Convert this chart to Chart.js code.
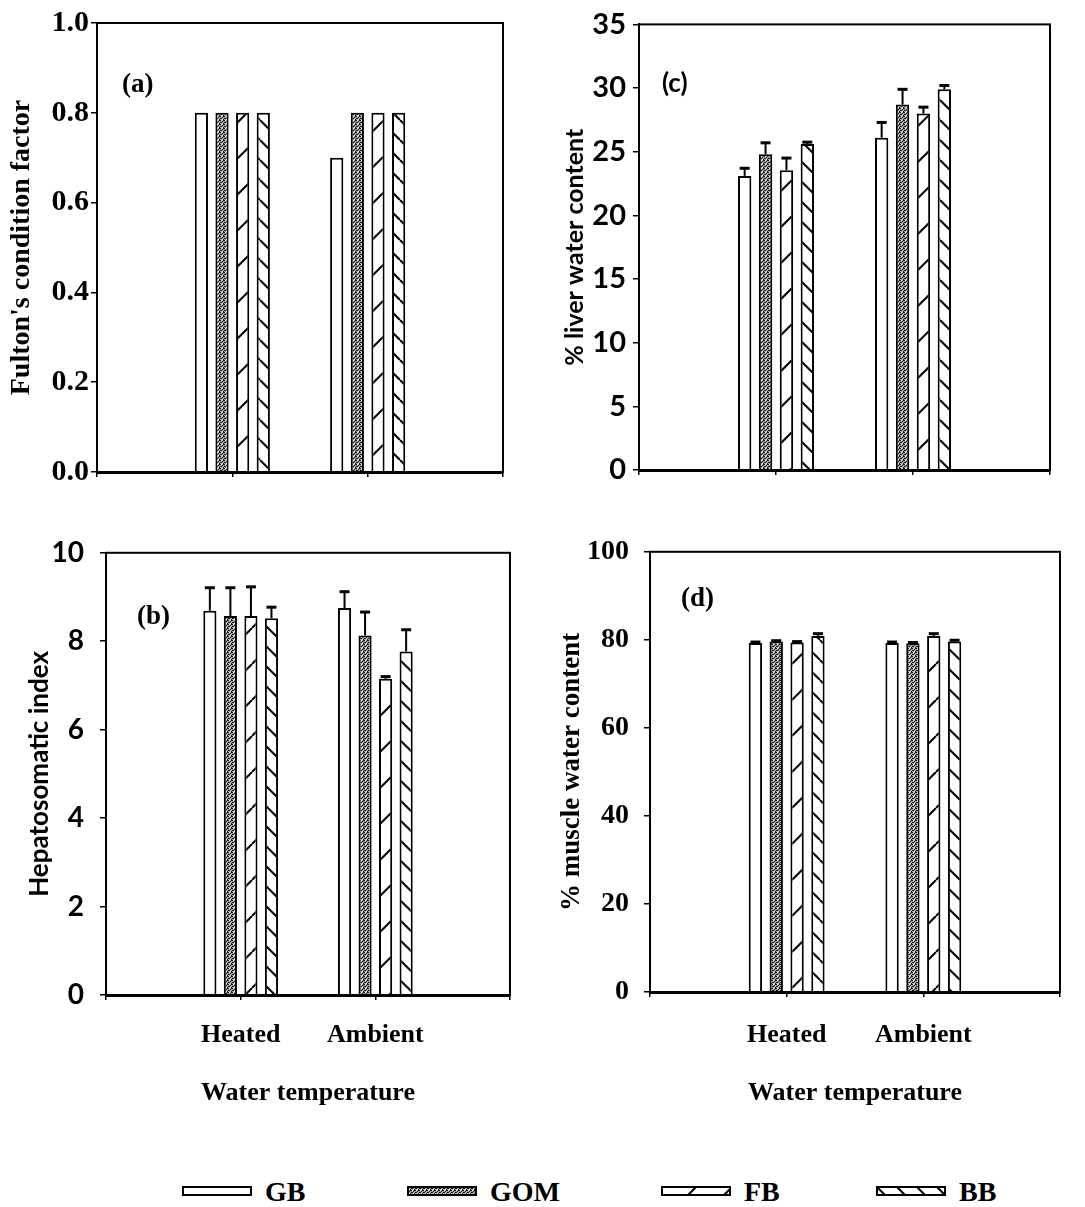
<!DOCTYPE html>
<html lang="en">
<head>
<meta charset="UTF-8">
<title>Condition factor, HSI and tissue water content by stock</title>
<script src="https://cdn.jsdelivr.net/npm/chart.js"></script>
<style>
  body {
    margin: 0;
    background: #fff;
    width: 1085px;
    height: 1207px;
    position: relative;
    overflow: hidden;
  }
  canvas.panel { position: absolute; }
  #chartA { left: 0; top: 0; }
  #chartC { left: 540px; top: 0; }
  #chartB { left: 0; top: 520px; }
  #chartD { left: 540px; top: 520px; }
  .key {
    position: absolute;
    top: 1178px;
    height: 28px;
    display: flex;
    align-items: center;
    font: bold 28px 'Liberation Serif', serif;
    color: #000;
  }
  .key canvas { margin-right: 13px; margin-top: -3px; }
</style>
</head>
<body>
<canvas id="chartA" class="panel" width="540" height="520"></canvas>
<canvas id="chartC" class="panel" width="545" height="520"></canvas>
<canvas id="chartB" class="panel" width="540" height="600"></canvas>
<canvas id="chartD" class="panel" width="545" height="600"></canvas>
<div id="keys"></div>

<script>
const groups = ['Heated', 'Ambient'];
const stocks = ['GB', 'GOM', 'FB', 'BB'];

// rows follow stocks, columns follow groups
const fulton = [[0.8, 0.7], [0.8, 0.8], [0.8, 0.8], [0.8, 0.8]];

const hsi = [[8.69, 8.75], [8.57, 8.13], [8.57, 7.15], [8.52, 7.77]];
const hsiErr = [[0.52, 0.37], [0.64, 0.53], [0.66, 0.05], [0.25, 0.49]];

const liverWater = [[23.1, 26.1], [24.8, 28.7], [23.55, 28.0], [25.6, 29.9]];
const liverErr = [[0.6, 1.2], [0.9, 1.2], [0.95, 0.5], [0.15, 0.3]];

const muscleWater = [[79.3, 79.3], [79.6, 79.2], [79.4, 80.9], [80.9, 79.6]];
const muscleErr = [[0.2, 0.2], [0.2, 0.2], [0.2, 0.5], [0.5, 0.3]];

const serif = "'Liberation Serif', 'Times New Roman', serif";
const sans = "Lato, 'DejaVu Sans', sans-serif";

// hatch / stipple fills
function tile(w, h, draw) {
  const c = document.createElement('canvas');
  c.width = w;
  c.height = h;
  const g = c.getContext('2d');
  g.fillStyle = '#fff';
  g.fillRect(0, 0, w, h);
  draw(g, w, h);
  return g.createPattern(c, 'repeat');
}

const fills = {
  GB: '#ffffff',
  GOM: tile(4, 4, g => {
    g.fillStyle = '#a8a8a8';
    g.fillRect(0, 0, 4, 4);
    g.fillStyle = '#111';
    [[0, 0], [2, 1], [1, 2], [3, 3], [3, 0], [0, 2]].forEach(([x, y]) => g.fillRect(x, y, 1, 1));
    g.fillStyle = '#eee';
    [[1, 0], [2, 3]].forEach(([x, y]) => g.fillRect(x, y, 1, 1));
  }),
  FB: tile(36, 36, (g, w, h) => {
    g.strokeStyle = '#000';
    g.lineWidth = 2;
    for (const o of [-w, 0, w]) {
      g.beginPath();
      g.moveTo(o, h);
      g.lineTo(o + w, 0);
      g.stroke();
    }
  }),
  BB: tile(20, 20, (g, w, h) => {
    g.strokeStyle = '#000';
    g.lineWidth = 2;
    for (const o of [-w, 0, w]) {
      g.beginPath();
      g.moveTo(o, 0);
      g.lineTo(o + w, h);
      g.stroke();
    }
  })
};

// box around the plot area
const frame = {
  id: 'frame',
  afterDraw(chart) {
    const { ctx, chartArea: a } = chart;
    ctx.save();
    ctx.strokeStyle = '#000';
    ctx.lineWidth = 2;
    ctx.strokeRect(a.left, a.top, a.right - a.left, a.bottom - a.top);
    ctx.restore();
  }
};

// mean + SE whiskers
const errorBars = {
  id: 'errorBars',
  afterDatasetsDraw(chart) {
    const ctx = chart.ctx;
    const y = chart.scales.y;
    ctx.save();
    ctx.strokeStyle = '#000';
    chart.data.datasets.forEach((ds, i) => {
      if (!ds.errors) return;
      chart.getDatasetMeta(i).data.forEach((bar, j) => {
        const v = ds.data[j];
        const e = ds.errors[j];
        if (v == null || e == null) return;
        const top = y.getPixelForValue(v + e);
        ctx.lineWidth = 2;
        ctx.beginPath();
        ctx.moveTo(bar.x, bar.y);
        ctx.lineTo(bar.x, top);
        ctx.stroke();
        ctx.lineWidth = 3;
        ctx.beginPath();
        ctx.moveTo(bar.x - 5, top);
        ctx.lineTo(bar.x + 5, top);
        ctx.stroke();
      });
    });
    ctx.restore();
  }
};

const panelTag = {
  id: 'panelTag',
  afterDraw(chart, args, o) {
    const { ctx, chartArea: a } = chart;
    ctx.save();
    ctx.font = o.font;
    ctx.fillStyle = '#000';
    ctx.textBaseline = 'middle';
    ctx.fillText(o.text, a.left + o.dx, a.top + o.dy);
    ctx.restore();
  }
};

function panel(id, p) {
  const datasets = stocks.map((s, i) => ({
    label: s,
    data: [null, ...p.values[i], null],
    errors: p.errors ? [null, ...p.errors[i], null] : null,
    backgroundColor: fills[s],
    borderColor: '#000',
    borderWidth: 2,
    categoryPercentage: 0.61,
    barPercentage: 0.64
  }));

  return new Chart(document.getElementById(id), {
    type: 'bar',
    data: { labels: ['', ...groups, ''], datasets },
    options: {
      responsive: false,
      animation: false,
      layout: { padding: p.padding },
      plugins: {
        legend: { display: false },
        tooltip: { enabled: false },
        panelTag: p.tag
      },
      scales: {
        x: {
          offset: false,
          grid: { offset: false, drawOnChartArea: false, tickLength: 5, color: '#000', lineWidth: 1.5 },
          border: { color: '#000', width: 3 },
          ticks: {
            display: p.showGroups,
            autoSkip: false,
            maxRotation: 0,
            color: '#000',
            padding: p.groupPad,
            font: { family: serif, size: 26, weight: 'bold' }
          },
          title: {
            display: p.showGroups,
            text: 'Water temperature',
            color: '#000',
            padding: { top: 0, bottom: p.titlePad },
            font: { family: serif, size: 26, weight: 'bold' }
          },
          afterFit: s => { s.height = p.xHeight; }
        },
        y: {
          min: p.range[0],
          max: p.range[1],
          grid: { drawOnChartArea: false, tickLength: 6, color: '#000', lineWidth: 1.5 },
          border: { color: '#000', width: 2 },
          ticks: {
            stepSize: p.range[2],
            color: '#000',
            padding: p.tickPad,
            font: { family: p.tickFont, size: p.tickSize, weight: 'bold' },
            callback: p.format || (v => v)
          },
          title: {
            display: true,
            text: p.yTitle,
            color: '#000',
            padding: { top: p.yTitlePad, bottom: 0 },
            font: { family: p.yTitleFont, size: p.yTitleSize, weight: 'bold' }
          },
          afterFit: s => { s.width = p.yWidth; }
        }
      }
    },
    plugins: [frame, errorBars, panelTag]
  });
}

panel('chartA', {
  values: fulton,
  range: [0, 1, 0.2],
  format: v => v.toFixed(1),
  padding: { left: 0, top: 23, right: 37, bottom: 38 },
  xHeight: 10,
  yWidth: 97,
  showGroups: false,
  tickFont: serif, tickSize: 30, tickPad: 2,
  yTitle: "Fulton's condition factor", yTitleFont: serif, yTitleSize: 28, yTitlePad: 5,
  tag: { text: '(a)', font: 'bold 27px ' + serif, dx: 25, dy: 62 }
});

panel('chartC', {
  values: liverWater,
  errors: liverErr,
  range: [0, 35, 5],
  padding: { left: 0, top: 23, right: 35, bottom: 40 },
  xHeight: 10,
  yWidth: 99,
  showGroups: false,
  tickFont: sans, tickSize: 29, tickPad: 7,
  yTitle: '% liver water content', yTitleFont: sans, yTitleSize: 25, yTitlePad: 20,
  tag: { text: '(c)', font: 'bold 26px ' + sans, dx: 23, dy: 59 }
});

panel('chartB', {
  values: hsi,
  errors: hsiErr,
  range: [0, 10, 2],
  padding: { left: 0, top: 18, right: 30, bottom: 0 },
  xHeight: 125,
  yWidth: 106,
  showGroups: true,
  groupPad: 20,
  titlePad: 11,
  tickFont: sans, tickSize: 28, tickPad: 16,
  yTitle: 'Hepatosomatic index', yTitleFont: sans, yTitleSize: 26, yTitlePad: 24,
  tag: { text: '(b)', font: 'bold 27px ' + serif, dx: 31, dy: 64 }
});

panel('chartD', {
  values: muscleWater,
  errors: muscleErr,
  range: [0, 100, 20],
  padding: { left: 0, top: 16, right: 25, bottom: 3 },
  xHeight: 125,
  yWidth: 110,
  showGroups: true,
  groupPad: 23,
  titlePad: 8,
  tickFont: serif, tickSize: 28, tickPad: 15,
  yTitle: '% muscle water content', yTitleFont: serif, yTitleSize: 27, yTitlePad: 16,
  tag: { text: '(d)', font: 'bold 27px ' + serif, dx: 31, dy: 47 }
});

// shared key along the bottom
const keyLeft = [182, 407, 661, 876];
const keys = document.getElementById('keys');
stocks.forEach((s, i) => {
  const item = document.createElement('div');
  item.className = 'key';
  item.style.left = keyLeft[i] + 'px';
  const sw = document.createElement('canvas');
  sw.width = 70;
  sw.height = 10;
  const g = sw.getContext('2d');
  g.fillStyle = fills[s];
  g.fillRect(0, 0, 70, 10);
  g.strokeStyle = '#000';
  g.lineWidth = 2;
  g.strokeRect(1, 1, 68, 8);
  item.appendChild(sw);
  item.appendChild(document.createTextNode(s));
  keys.appendChild(item);
});
</script>
</body>
</html>
